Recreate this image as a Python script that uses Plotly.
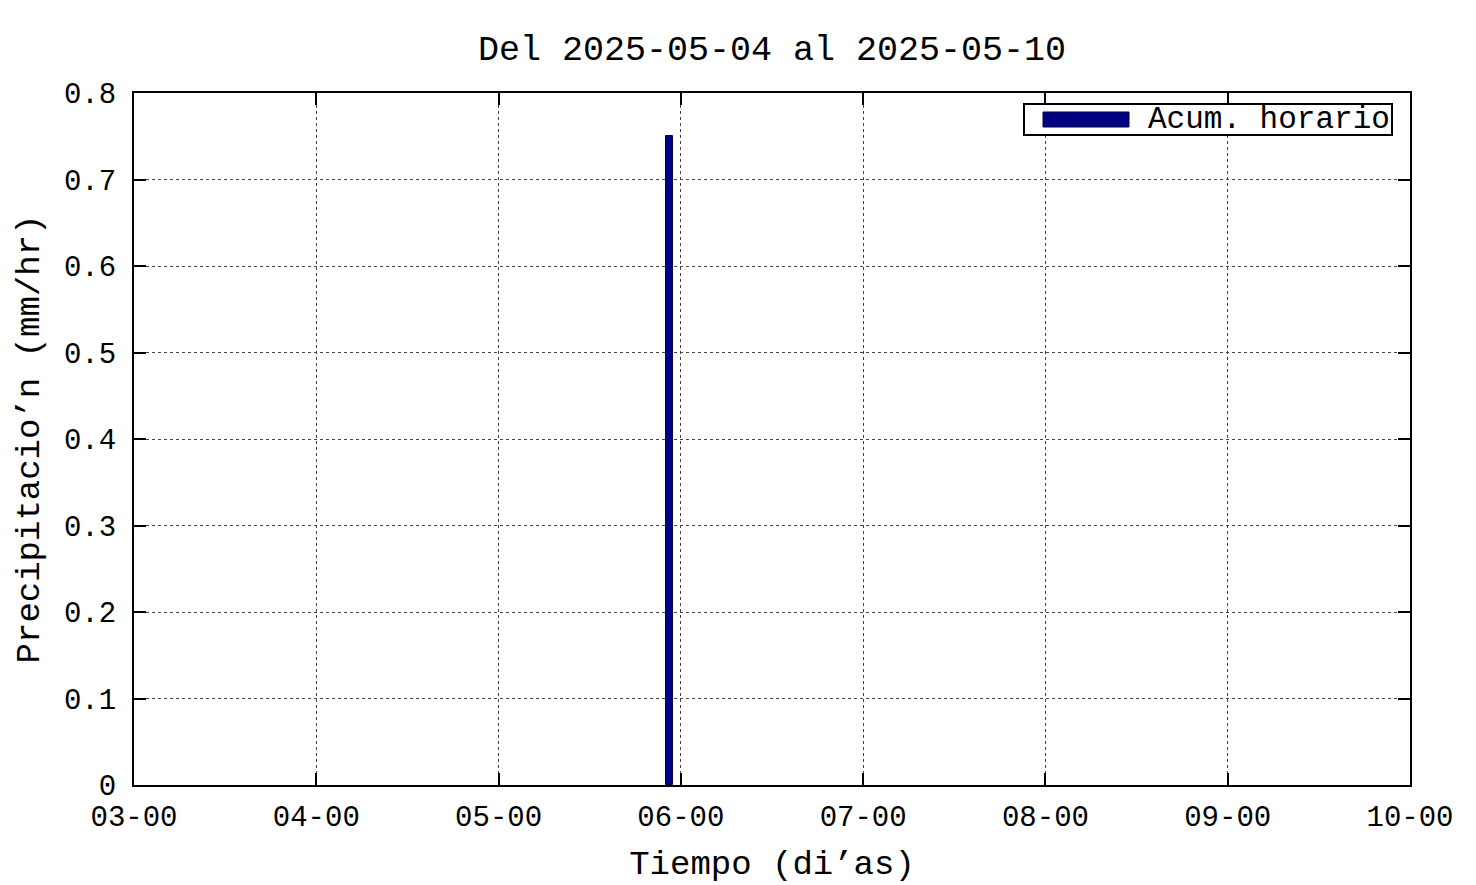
import plotly.graph_objects as go

# Data
bar_center = ["2025-05-05 22:30"]
precip = [0.75]
x_ticks = ["2025-05-03", "2025-05-04", "2025-05-05", "2025-05-06",
           "2025-05-07", "2025-05-08", "2025-05-09", "2025-05-10"]
x_ticklabels = ["03-00", "04-00", "05-00", "06-00", "07-00", "08-00", "09-00", "10-00"]
y_ticks = [0, 0.1, 0.2, 0.3, 0.4, 0.5, 0.6, 0.7, 0.8]
y_ticklabels = ["0", "0.1", "0.2", "0.3", "0.4", "0.5", "0.6", "0.7", "0.8"]
series_name = "Acum. horario"

FONT = "Liberation Mono, Courier New, monospace"

fig = go.Figure()
fig.add_trace(go.Bar(
    x=bar_center, y=precip, width=[3600000],
    marker=dict(color="#000080", line=dict(color="#00004a", width=1)),
    name=series_name, showlegend=False,
))

fig.update_layout(
    width=1476, height=885,
    margin=dict(l=126, r=74, t=85, b=108),
    paper_bgcolor="white", plot_bgcolor="white",
    font=dict(family=FONT, color="black", size=28),
    title=dict(text="Del 2025-05-04 al 2025-05-10", x=(772-8)/1476, xanchor="center",
               y=1 - 40/885, yanchor="middle", font=dict(size=35, family=FONT)),
    bargap=0,
)

fig.update_xaxes(
    type="date", range=["2025-05-03", "2025-05-10"],
    tickmode="array", tickvals=x_ticks, ticktext=x_ticklabels,
    ticks="inside", ticklen=12, tickwidth=2, tickcolor="black",
    showline=True, linecolor="black", linewidth=2, mirror="ticks",
    showgrid=True, gridcolor="#444444", griddash="dot", gridwidth=1,
    tickfont=dict(size=29, family=FONT), ticklabelstandoff=4,
    title=dict(text="Tiempo (di’as)", font=dict(size=34, family=FONT), standoff=16),
    zeroline=False,
)
fig.update_yaxes(
    range=[0, 0.8], tickmode="array", tickvals=y_ticks, ticktext=y_ticklabels,
    ticks="inside", ticklen=12, tickwidth=2, tickcolor="black",
    showline=True, linecolor="black", linewidth=2, mirror="ticks",
    showgrid=True, gridcolor="#444444", griddash="dot", gridwidth=1,
    tickfont=dict(size=29, family=FONT), ticklabelstandoff=10,
    title=dict(text="Precipitacio’n (mm/hr)", font=dict(size=34, family=FONT), standoff=14),
    zeroline=False,
)

# Custom legend box (gnuplot style wide swatch)
fig.add_shape(type="rect", xref="paper", yref="paper",
              x0=(1024-134)/1276, x1=(1392-134)/1276,
              y0=(785-135)/692, y1=(785-104)/692,
              line=dict(color="black", width=2), fillcolor="white", layer="above")
fig.add_shape(type="rect", xref="paper", yref="paper",
              x0=(1043-134)/1276, x1=(1129-134)/1276,
              y0=(785-127)/692, y1=(785-112)/692,
              line=dict(color="#00004a", width=1), fillcolor="#000080", layer="above")
fig.add_annotation(xref="paper", yref="paper", x=(1392-134)/1276, y=(785-120)/692,
                   text=series_name, showarrow=False, xanchor="right", yanchor="middle",
                   font=dict(size=31, family=FONT))

fig.write_html("out.html")
